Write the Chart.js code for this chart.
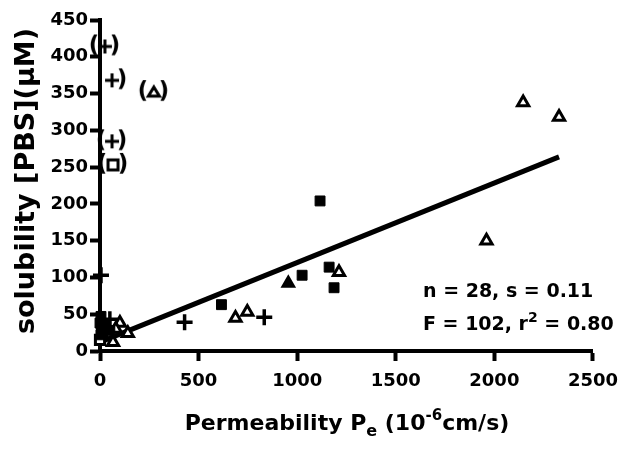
<!DOCTYPE html>
<html>
<head>
<meta charset="utf-8">
<script src="https://cdn.jsdelivr.net/npm/chart.js@4.4.1/dist/chart.umd.min.js"></script>
<style>
  html, body { margin: 0; padding: 0; background: #fff; }
  #wrap { width: 628px; height: 449px; }
</style>
</head>
<body>
<div id="wrap"><canvas id="permChart" width="628" height="449"></canvas></div>
<script>
// Values (Pe in 10^-6 cm/s, solubility in uM)
var filledSquareX = [1116, 1025, 1162, 1187, 616, 5, 0, 15, 5, 30, 50];
var filledSquareY = [204, 103, 114, 86, 63, 47, 38, 30, 22, 35, 28];
var filledTriangleX = [955];
var filledTriangleY = [92];
var openTriangleX = [687, 747, 1212, 2146, 2328, 1960, 66, 101, 141, 80];
var openTriangleY = [45, 53, 107, 338, 318, 150, 12, 38, 24, 30];
var plusX = [429, 833, 5, 50];
var plusY = [39, 46, 103, 43];
var openSquareX = [0, 10];
var openSquareY = [15, 25];

// compounds left out of the fit, shown in brackets
var outlierX = [25, 61, 273, 61, 66];
var outlierY = [414, 368, 352, 285, 253];
var outlierKind = ['plus', 'plusNoLeft', 'triangle', 'plus', 'square'];

// regression line end points
var fitX = [0, 2328];
var fitY = [12, 264];

var xTicks = [0, 500, 1000, 1500, 2000, 2500];
var yTicks = [0, 50, 100, 150, 200, 250, 300, 350, 400, 450];

var FONT = 'DejaVu Sans';

function pts(xs, ys) {
    return xs.map(function(x, i) { return { x: x, y: ys[i] }; });
}

// Build a bracketed marker like "(+)" as a small canvas
function bracketMarker(kind) {
    var c = document.createElement('canvas');
    c.width = 36; c.height = 32;
    var g = c.getContext('2d');
    var cx = 18, cy = 16;
    g.fillStyle = '#000';
    g.strokeStyle = '#000';
    g.font = 'bold 23px "' + FONT + '"';
    g.textAlign = 'center';
    g.textBaseline = 'middle';
    if (kind !== 'plusNoLeft') g.fillText('(', cx - 11, cy);
    g.fillText(')', cx + 10, cy);
    g.lineWidth = 3;
    if (kind === 'plus' || kind === 'plusNoLeft') {
        g.beginPath();
        g.moveTo(cx - 7, cy); g.lineTo(cx + 7, cy);
        g.moveTo(cx, cy - 7); g.lineTo(cx, cy + 7);
        g.stroke();
    } else if (kind === 'triangle') {
        g.beginPath();
        g.moveTo(cx, cy - 5);
        g.lineTo(cx + 5.5, cy + 4);
        g.lineTo(cx - 5.5, cy + 4);
        g.closePath();
        g.stroke();
    } else if (kind === 'square') {
        g.strokeRect(cx - 5, cy - 5, 10, 10);
    }
    return c;
}

var outlierStyles = outlierKind.map(function(k) { return bracketMarker(k); });

// Draws a row of text runs (for sub/superscripts)
function drawRuns(ctx, runs, x, y, align) {
    var total = 0;
    runs.forEach(function(r) {
        ctx.font = 'bold ' + r.size + 'px "' + FONT + '"';
        r.w = ctx.measureText(r.text).width;
        total += r.w;
    });
    var cur = align === 'center' ? x - total / 2 : x;
    runs.forEach(function(r) {
        ctx.font = 'bold ' + r.size + 'px "' + FONT + '"';
        ctx.fillText(r.text, cur, y + (r.dy || 0));
        cur += r.w;
    });
}

var figureText = {
    id: 'figureText',
    afterDraw: function(chart) {
        var ctx = chart.ctx;
        ctx.save();
        ctx.fillStyle = '#000';
        ctx.textAlign = 'left';
        ctx.textBaseline = 'alphabetic';

        // x axis title
        drawRuns(ctx, [
            { text: 'Permeability P', size: 22 },
            { text: 'e', size: 16, dy: 6 },
            { text: ' (10', size: 22 },
            { text: '-6', size: 15, dy: -10 },
            { text: 'cm/s)', size: 22 }
        ], 347, 430, 'center');

        // fit statistics
        drawRuns(ctx, [{ text: 'n = 28, s = 0.11', size: 19 }], 423, 297, 'left');
        drawRuns(ctx, [
            { text: 'F = 102, r', size: 19 },
            { text: '2', size: 14, dy: -8 },
            { text: ' = 0.80', size: 19 }
        ], 423, 330, 'left');

        // y axis title
        ctx.translate(27, 181);
        ctx.rotate(-Math.PI / 2);
        ctx.textAlign = 'center';
        ctx.textBaseline = 'middle';
        ctx.font = 'bold 27px "' + FONT + '"';
        ctx.fillText('solubility [PBS](\u03bcM)', 0, 0);
        ctx.restore();
    }
};

var tickFont = { family: FONT, size: 18, weight: 'bold' };
var plainLabel = function(value) { return String(value); };

new Chart(document.getElementById('permChart').getContext('2d'), {
    type: 'scatter',
    data: {
        datasets: [{
            label: 'filled squares',
            data: pts(filledSquareX, filledSquareY),
            pointStyle: 'rect',
            pointRadius: 7,
            backgroundColor: '#000',
            borderColor: '#000',
            borderWidth: 1,
            clip: false
        }, {
            label: 'filled triangles',
            data: pts(filledTriangleX, filledTriangleY),
            pointStyle: 'triangle',
            pointRadius: 7,
            backgroundColor: '#000',
            borderColor: '#000',
            borderWidth: 2,
            clip: false
        }, {
            label: 'open triangles',
            data: pts(openTriangleX, openTriangleY),
            pointStyle: 'triangle',
            pointRadius: 6.5,
            backgroundColor: '#fff',
            borderColor: '#000',
            borderWidth: 3,
            clip: false
        }, {
            label: 'plus',
            data: pts(plusX, plusY),
            pointStyle: 'cross',
            pointRadius: 8,
            borderColor: '#000',
            borderWidth: 3.5,
            clip: false
        }, {
            label: 'open squares',
            data: pts(openSquareX, openSquareY),
            pointStyle: 'rect',
            pointRadius: 6.5,
            backgroundColor: '#fff',
            borderColor: '#000',
            borderWidth: 3,
            clip: false
        }, {
            label: 'excluded',
            data: pts(outlierX, outlierY),
            pointStyle: outlierStyles,
            pointRadius: 12,
            clip: false
        }, {
            type: 'line',
            label: 'fit',
            data: pts(fitX, fitY),
            borderColor: '#000',
            borderWidth: 5,
            pointRadius: 0,
            fill: false,
            order: 10,
            clip: false
        }]
    },
    options: {
        responsive: false,
        animation: false,
        events: [],
        layout: { padding: { left: 0, right: 33, top: 20, bottom: 0 } },
        plugins: {
            legend: { display: false },
            tooltip: { enabled: false }
        },
        scales: {
            x: {
                type: 'linear',
                min: 0,
                max: 2500,
                afterBuildTicks: function(s) { s.ticks = xTicks.map(function(v) { return { value: v }; }); },
                afterFit: function(s) { s.height = 98; },
                grid: { drawOnChartArea: false, drawTicks: true, tickLength: 10, tickWidth: 4, tickColor: '#000' },
                border: { display: true, color: '#000', width: 4 },
                ticks: { color: '#000', font: tickFont, padding: 10, maxRotation: 0, callback: plainLabel }
            },
            y: {
                type: 'linear',
                min: 0,
                max: 450,
                afterBuildTicks: function(s) { s.ticks = yTicks.map(function(v) { return { value: v }; }); },
                afterFit: function(s) { s.width = 100; },
                grid: { drawOnChartArea: false, drawTicks: true, tickLength: 10, tickWidth: 4, tickColor: '#000' },
                border: { display: true, color: '#000', width: 4 },
                ticks: { color: '#000', font: tickFont, padding: 2, callback: plainLabel }
            }
        }
    },
    plugins: [figureText]
});
</script>
</body>
</html>
